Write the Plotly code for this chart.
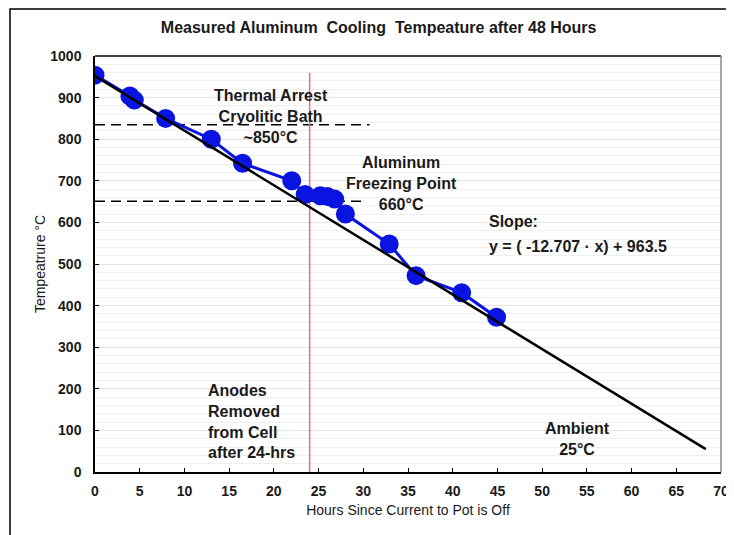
import plotly.graph_objects as go

# measured cooling curve
hours = [0, 3.9, 4.4, 7.9, 13.0, 16.5, 22.0, 23.5, 25.2, 26.0, 26.8, 28.0, 32.9, 35.9, 41.0, 44.9]
temps = [954, 904, 894, 850, 800, 742, 700, 667, 664, 662, 656, 620, 548, 472, 431, 372]

# linear trend line as drawn
fit_hours = [0, 68.3]
fit_temps = [952, 55]

# reference levels
bath_level = 835
bath_hours = [0, 30.7]
freeze_level = 651
freeze_hours = [0, 30.2]
anode_hour = 24
anode_temps = [0, 960]

FONT = "Liberation Sans, Arial, sans-serif"
INK = "#1a1a1a"

fig = go.Figure()

fig.add_trace(go.Scatter(
    x=bath_hours, y=[bath_level, bath_level], mode="lines",
    line=dict(color="black", width=1.5, dash="10px,6px"), hoverinfo="skip"))
fig.add_trace(go.Scatter(
    x=freeze_hours, y=[freeze_level, freeze_level], mode="lines",
    line=dict(color="black", width=1.5, dash="10px,6px"), hoverinfo="skip"))
fig.add_trace(go.Scatter(
    x=[anode_hour, anode_hour], y=anode_temps, mode="lines",
    line=dict(color="#d9787a", width=1.5), hoverinfo="skip"))
fig.add_trace(go.Scatter(
    x=hours, y=temps, mode="lines+markers",
    line=dict(color="#0a14e0", width=3),
    marker=dict(color="#0a14e0", size=19)))
fig.add_trace(go.Scatter(
    x=fit_hours, y=fit_temps, mode="lines",
    line=dict(color="black", width=2.5), hoverinfo="skip"))

ann_font = dict(family=FONT, size=16, color=INK)
notes = [
    (19.7, 778, "<b>Thermal Arrest<br>Cryolitic Bath<br>~850°C</b>", "center", "bottom"),
    (34.3, 618, "<b>Aluminum<br>Freezing Point<br>660°C</b>", "center", "bottom"),
    (43.8, 601, "<b>Slope:</b>", "left", "middle"),
    (43.8, 543, "<b>y = ( -12.707 · x) + 963.5</b>", "left", "middle"),
    (12.4, 22, "<b>Anodes<br>Removed<br>from Cell<br>after 24-hrs</b>", "left", "bottom"),
    (54.0, 30, "<b>Ambient<br>25°C</b>", "center", "bottom"),
]
for x, y, text, align, yanchor in notes:
    fig.add_annotation(
        x=x, y=y, text=text, showarrow=False, align=align,
        xanchor="left" if align == "left" else "center", yanchor=yanchor,
        font=ann_font)

# outer frame around the whole chart
fig.add_shape(type="rect", xref="paper", yref="paper",
              x0=-0.1358, x1=1.027, y0=-0.18, y1=1.113,
              line=dict(color="black", width=1.5))
# top and right border of plot area
fig.add_shape(type="line", xref="paper", yref="paper",
              x0=0, x1=1, y0=1, y1=1, line=dict(color="black", width=1.5))
fig.add_shape(type="line", xref="paper", yref="paper",
              x0=1, x1=1, y0=0, y1=1, line=dict(color="#888888", width=1.5))

fig.update_layout(
    width=734, height=535,
    margin=dict(l=87, r=21, t=48, b=71, autoexpand=False),
    plot_bgcolor="white", paper_bgcolor="white",
    showlegend=False,
    title=dict(text="<b>Measured Aluminum  Cooling  Tempeature after 48 Hours</b>",
               x=0.505, xanchor="center", y=0.963, yanchor="middle",
               font=dict(family=FONT, size=16, color=INK)),
    font=dict(family=FONT, color=INK),
)

fig.update_xaxes(
    range=[0, 70], dtick=5, tickmode="linear", automargin=False,
    showgrid=False, zeroline=False,
    showline=True, linecolor="black", linewidth=1.5,
    ticks="inside", ticklen=4, tickcolor="black",
    tickfont=dict(family=FONT, size=14, color=INK),
    ticklabelstandoff=5,
    tickprefix="<b>", ticksuffix="</b>",
    title=dict(text="Hours Since Current to Pot is Off", standoff=8,
               font=dict(family=FONT, size=14, color=INK)))
fig.update_yaxes(
    range=[0, 1000], dtick=100, tickmode="linear", automargin=False,
    showgrid=True, gridcolor="#e6e6e6", gridwidth=1,
    minor=dict(dtick=20, showgrid=True, gridcolor="#efefef", gridwidth=1),
    zeroline=False,
    showline=True, linecolor="black", linewidth=1.5,
    ticks="inside", ticklen=4, tickcolor="black",
    tickfont=dict(family=FONT, size=14, color=INK),
    ticklabelstandoff=9,
    tickprefix="<b>", ticksuffix="</b>",
    title=dict(text="Tempeatrure °C", standoff=1,
               font=dict(family=FONT, size=14, color=INK)))

fig.write_html("out.html")
